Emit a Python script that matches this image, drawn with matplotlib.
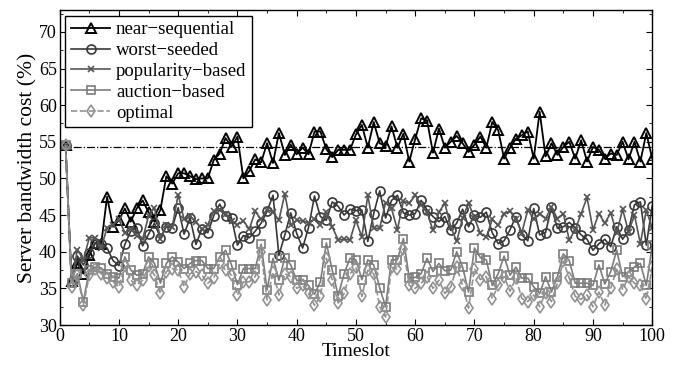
import numpy as np
import matplotlib
matplotlib.use('Agg')
import matplotlib.pyplot as plt
from matplotlib.ticker import MultipleLocator

plt.rcParams['font.family'] = ['Liberation Serif', 'DejaVu Serif']
plt.rcParams['axes.unicode_minus'] = True

# values, timeslot 1..100
near_seq = [54.5, 36, 38.5, 37, 39.5, 41.2, 41, 47.5, 43.4, 44.3,
            45.9, 44.1, 45.9, 47, 45.4, 44.1, 45.7, 50.3, 49.3, 50.7,
            50.7, 50.3, 49.9, 50, 50, 52.5, 53.4, 55.5, 54.3, 55.7,
            50, 51, 52.6, 52.2, 54.8, 52.1, 56.2, 53.2, 54.6, 53.3,
            54.2, 53.3, 56.4, 56.4, 54, 52.9, 53.9, 53.9, 53.9, 56,
            57.3, 54.2, 57.7, 54.8, 54.4, 57.1, 54.2, 56.1, 52.3, 55.4,
            58.2, 57.9, 53.5, 56.8, 54.2, 55, 55.8, 54.8, 53.6, 54.6,
            55.7, 54.2, 57.7, 56.6, 52.7, 54.2, 55.4, 55.9, 56.4, 52.7,
            59.1, 53, 54.8, 53.2, 54.3, 55, 52.7, 55.2, 52.3, 54.3,
            53.9, 52.7, 53.4, 53.2, 55, 52.6, 55, 52.3, 56.2, 52.7]

worst_seeded = [54.5, 35.9, 39.4, 38.2, 39.8, 41.2, 41, 40.5, 38.8, 38.1,
                41, 42.8, 43.3, 40.8, 42.4, 43.9, 41.9, 43.4, 43.3, 46,
                42.4, 44.6, 41, 43.1, 42.6, 44.9, 46.5, 44.9, 44.6, 40.9,
                42.2, 41.9, 42.8, 43.9, 45.5, 47.7, 39.5, 42.3, 45.3, 42.5,
                40.5, 43.3, 47.6, 44.8, 44.3, 46.8, 46.2, 45, 45.8, 45.6,
                45.7, 41.4, 45.2, 48.3, 44.6, 47, 47.7, 45.3, 45, 45.2,
                47, 45.7, 44.8, 44.1, 44.8, 42.9, 43.9, 45.8, 43.4, 45,
                44.7, 45.4, 42.6, 41.1, 41.5, 43, 44.8, 42.3, 41.5, 45.9,
                42.3, 42.6, 46.1, 43.2, 43.4, 44, 43.3, 42.3, 41.7, 40.2,
                41.1, 41.7, 40.7, 43.4, 41.7, 42.9, 46.4, 46.8, 40.9, 46.3]

popularity = [54.5, 36, 40.3, 38.9, 41.9, 41.9, 40.5, 43.3, 43.7, 44.4,
              42.6, 43.1, 42.2, 41.7, 44.9, 46, 41.7, 43.7, 43.4, 47.8,
              44.4, 44.9, 44, 43.1, 43.7, 45.5, 45.7, 45.1, 44.2, 43.7,
              44.2, 43.1, 45.5, 44.4, 45.7, 45.4, 44.3, 47.9, 43.6, 44.3,
              44.2, 43.9, 44.4, 43.6, 45.4, 43.4, 41.6, 41.7, 41.6, 44.3,
              42, 47.7, 43.2, 43.2, 46.7, 45.9, 43, 46.9, 46.6, 47.7,
              46.4, 45.4, 42.9, 45.4, 46.6, 43.4, 41.4, 44.6, 46.6, 44.6,
              42.5, 42, 44.4, 43.6, 45.2, 45.5, 44.5, 42.6, 45.7, 44.5,
              45.2, 44.5, 46.1, 44.5, 45.2, 41.6, 43, 45.2, 47.4, 43,
              45.2, 43.9, 45.3, 42.5, 45.8, 42.7, 45, 41.1, 45.7, 43.2]

auction = [54.5, 35.7, 37, 33.2, 37.5, 37.9, 37.8, 37, 36.6, 36.4,
           39.3, 37.5, 36.8, 37, 39.3, 38.4, 35.7, 38.4, 39.3, 38.6,
           37.7, 38.4, 38.8, 38.8, 37.7, 37.7, 39.3, 40.2, 38.2, 35.5,
           37.7, 37.7, 37.7, 41, 34.8, 39.1, 36.1, 39.2, 38.2, 36.1,
           36.1, 35.4, 34.2, 35.9, 41.2, 37.5, 34, 37, 39.1, 38.9,
           36.2, 38.9, 38.2, 35.1, 32.5, 38.9, 38.9, 41.8, 36.4, 36.5,
           37, 39.1, 37.3, 38.4, 37.4, 37.5, 40, 37.9, 34.5, 40.5,
           39.2, 38.9, 35.4, 37, 39.4, 36.8, 37.9, 36.4, 36.4, 35.2,
           34.3, 36.6, 34.5, 36.6, 39.7, 38.8, 35.7, 35.7, 35.7, 35.4,
           38.2, 35.6, 37.3, 40.2, 36.6, 37.3, 37.9, 38.4, 35.4, 40.9]

optimal = [54.5, 35.2, 36.8, 32.7, 36.8, 37.7, 37, 36.4, 35.9, 35.2,
           38, 36.1, 35.5, 36.1, 38, 36.8, 34.3, 37.3, 37.7, 37.5,
           35.2, 37, 37.3, 36.8, 35.7, 36.4, 38.4, 37.5, 36.8, 34.1,
           35.9, 35.9, 36.6, 40, 33.4, 37.2, 34.1, 37, 36.6, 35,
           35.4, 34.3, 32.7, 33.9, 39.1, 36.1, 33, 34.3, 37, 37.9,
           33.9, 37.5, 37, 32.5, 31.1, 37.9, 37.6, 40.4, 35.4, 35,
           35.7, 36.6, 35, 36.1, 34.3, 35.2, 37.9, 35.4, 32.3, 37.7,
           36.2, 36.6, 33.6, 35.4, 36.6, 34.6, 36.4, 33.6, 33.2, 34.1,
           32.5, 34.4, 33.2, 35.7, 38.7, 36.4, 33.9, 33.5, 34.1, 32.5,
           34.5, 32.7, 35, 37.6, 34.8, 36.6, 35.7, 35.4, 33.5, 37.9]

ref_level = 54.3
t = np.arange(1, 101)

fig = plt.figure(figsize=(6.78, 3.66), dpi=100)
ax = fig.add_axes([0.088, 0.112, 0.874, 0.861])

ax.plot([0, 100], [ref_level, ref_level], '-.', color='black', lw=0.9)

ax.plot(t, near_seq, '-^', color='black', lw=1.3, ms=7.5, mfc='none', mew=1.4,
        label='near\u2212sequential')
ax.plot(t, worst_seeded, '-o', color='#383838', lw=1.2, ms=6.5, mfc='none', mew=1.2,
        label='worst\u2212seeded')
ax.plot(t, popularity, '-x', color='#555555', lw=1.2, ms=5, mew=1.2,
        label='popularity\u2212based')
ax.plot(t, auction, '-s', color='#7c7c7c', lw=1.2, ms=5.5, mfc='none', mew=1.2,
        label='auction\u2212based')
ax.plot(t, optimal, '--d', color='#929292', lw=1.2, ms=6.5, mfc='none', mew=1.2,
        label='optimal')

ax.set_xlim(0, 100)
ax.set_ylim(30, 73)
ax.xaxis.set_major_locator(MultipleLocator(10))
ax.xaxis.set_minor_locator(MultipleLocator(5))
ax.yaxis.set_major_locator(MultipleLocator(5))
ax.yaxis.set_minor_locator(MultipleLocator(2.5))
ax.tick_params(which='both', direction='in', top=True, right=True, labelsize=13, pad=2)
ax.tick_params(which='major', length=4)
ax.tick_params(which='minor', length=2.5)
for s in ax.spines.values():
    s.set_linewidth(1.0)

ax.set_xlabel('Timeslot', fontsize=14, labelpad=-1)
ax.set_ylabel('Server bandwidth cost (%)', fontsize=15.5, labelpad=1)

leg = ax.legend(loc='upper left', fontsize=13.5, fancybox=False, edgecolor='black',
                framealpha=1, borderpad=0.3, labelspacing=0.2, handlelength=2.1,
                handletextpad=0.3, borderaxespad=0.3)
leg.get_frame().set_linewidth(1.0)

fig.savefig('out.png', dpi=100)
